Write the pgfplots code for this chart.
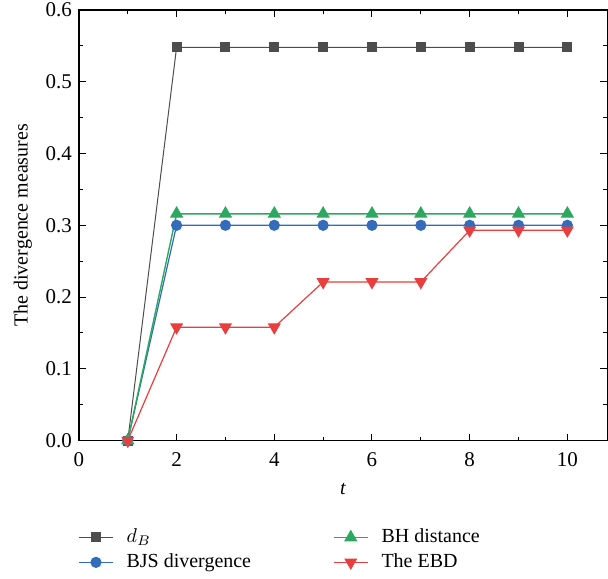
\documentclass[border=0pt]{standalone}
\usepackage{pgfplots}
\pgfplotsset{compat=1.18}
\usepackage{fontspec}
\setmainfont{Liberation Serif}
\definecolor{cgray}{RGB}{77,77,77}
\definecolor{cblue}{RGB}{52,108,188}
\definecolor{cgreen}{RGB}{44,168,96}
\definecolor{cred}{RGB}{234,62,62}
\begin{document}
\begin{tikzpicture}
  \begin{axis}[
    scale only axis,
    width=264.5pt, height=215.5pt,
    xmin=0, xmax=10.82, ymin=0, ymax=0.6,
    xtick={0,2,...,10}, minor xtick={1,3,...,9},
    ytick={0,0.1,...,0.6}, minor ytick={0.05,0.15,...,0.55},
    tick align=inside,
    major tick length=3.5pt, minor tick length=2pt,
    every tick/.style={black, line width=0.5pt},
    axis line style={line width=0.6pt},
    /pgf/number format/assume math mode=true,
    yticklabel style={/pgf/number format/.cd, fixed, fixed zerofill, precision=1},
    xticklabel style={yshift=-2.5pt},
    ticklabel style={font=\fontsize{10.5}{12}\selectfont},
    xlabel={\textit{t}}, ylabel={The divergence measures},
    xlabel shift=1.2pt,
    label style={font=\fontsize{10}{12}\selectfont},
    legend columns=2, transpose legend,
    legend style={draw=none, fill=none, at={(0,-0.186)}, anchor=north west,
      xshift=-3.5pt,
      font=\fontsize{10}{12}\selectfont, row sep=0pt,
      /tikz/column 1/.style={column sep=4.5pt},
      /tikz/column 2/.style={column sep=39pt},
      /tikz/column 3/.style={column sep=4.5pt}},
    legend cell align=left,
  ]
    \addplot[color=cgray, line width=0.5pt, mark=square*, mark size=2.25pt,
      mark options={fill=cgray, draw=cgray}] coordinates {
      (1,0) (2,0.548) (3,0.548) (4,0.548) (5,0.548) (6,0.548) (7,0.548) (8,0.548) (9,0.548) (10,0.548)
    };
    \addlegendentry{$d_{B}$}
    \addplot[color=cblue, line width=0.6pt, mark=*, mark size=2.5pt,
      mark options={fill=cblue, draw=cblue}] coordinates {
      (1,0) (2,0.300) (3,0.300) (4,0.300) (5,0.300) (6,0.300) (7,0.300) (8,0.300) (9,0.300) (10,0.300)
    };
    \addlegendentry{BJS divergence}
    \addplot[color=cgreen, line width=0.7pt, mark=triangle*, mark size=3.2pt,
      mark options={fill=cgreen, draw=cgreen}] coordinates {
      (1,0) (2,0.316) (3,0.316) (4,0.316) (5,0.316) (6,0.316) (7,0.316) (8,0.316) (9,0.316) (10,0.316)
    };
    \addlegendentry{BH distance}
    \addplot[color=cred, line width=0.6pt, mark=triangle*, mark size=3.2pt,
      mark options={fill=cred, draw=cred, rotate=180}] coordinates {
      (1,0) (2,0.158) (3,0.158) (4,0.158) (5,0.221) (6,0.221) (7,0.221) (8,0.293) (9,0.293) (10,0.293)
    };
    \addlegendentry{The EBD}
  \end{axis}
  \pgfresetboundingbox
  \path ([xshift=-39.5pt,yshift=5pt]current axis.north west)
    rectangle ([xshift=0.3pt,yshift=-69pt]current axis.south east);
\end{tikzpicture}
\end{document}
